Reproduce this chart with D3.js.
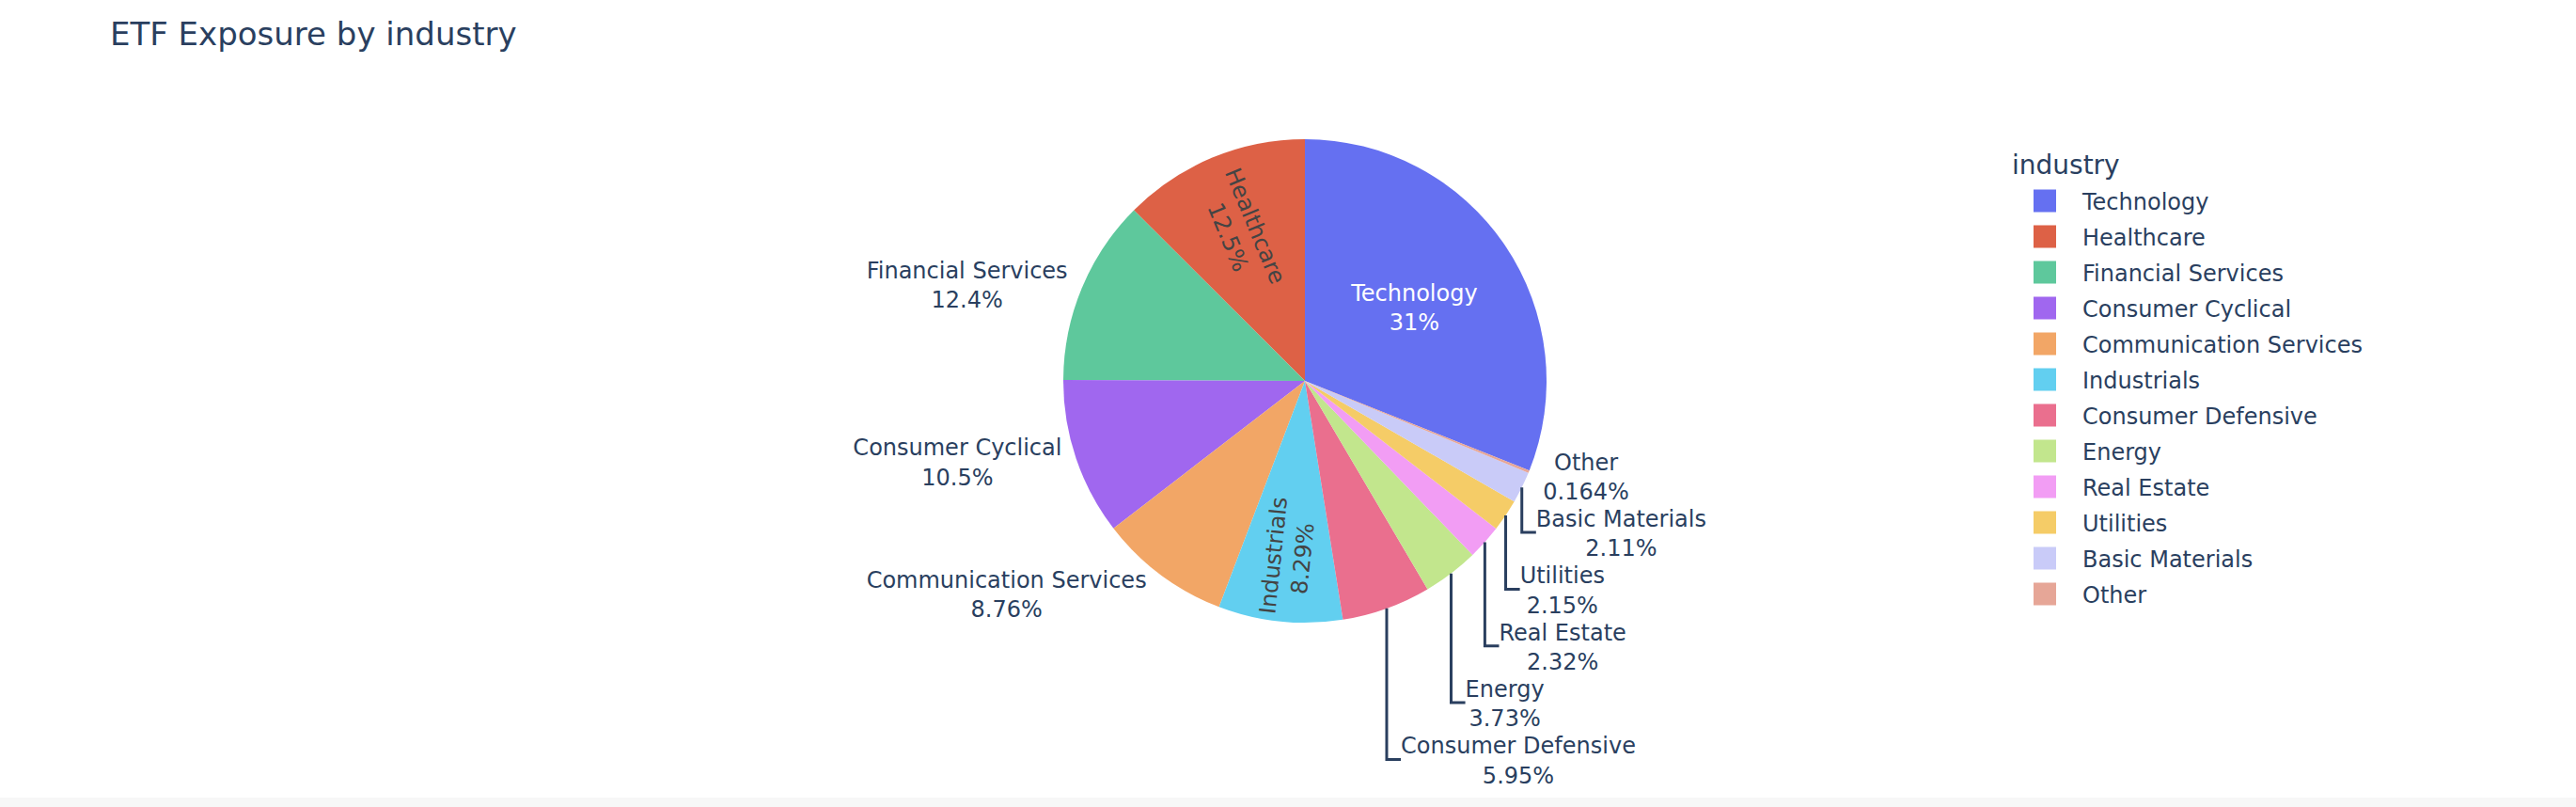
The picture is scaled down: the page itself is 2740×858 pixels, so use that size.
<!DOCTYPE html>
<html>
<head>
<meta charset="utf-8">
<script src="https://cdn.jsdelivr.net/npm/d3@7"></script>
<style>
  html, body { margin: 0; padding: 0; background: #ffffff; overflow: hidden; }
  svg { display: block; }
</style>
</head>
<body>
<svg id="chart" width="2740" height="858"></svg>
<script>
// ---------------- data ----------------
const chartTitle = "ETF Exposure by industry";
const legendTitle = "industry";
const industries = [
  "Technology", "Healthcare", "Financial Services", "Consumer Cyclical",
  "Communication Services", "Industrials", "Consumer Defensive", "Energy",
  "Real Estate", "Utilities", "Basic Materials", "Other"
];
const shares = [31.0, 12.5, 12.4, 10.5, 8.76, 8.29, 5.95, 3.73, 2.32, 2.15, 2.11, 0.164];
const sliceColors = [
  "#6570F1", "#DD6146", "#5EC89C", "#A067EF", "#F2A666", "#62CFF0",
  "#EA6F8E", "#C2E68D", "#F29DF4", "#F5CC67", "#C9CBF8", "#E6A697"
];

// ---------------- layout / style ----------------
const W = 2740, H = 858;
const cx = 1388, cy = 405, R = 257;
const FONT = "Verdana, 'DejaVu Sans', sans-serif";
const textColor = "#2a3f5f";
const FS = 24;                 // label font size
const LINE = 1.3 * FS;         // line spacing
const ASC = 1.005 * FS, DESC = 0.21 * FS;
const TEXTPAD = 6;

const svg = d3.select("#chart");
svg.append("rect").attr("x", 0).attr("y", 0).attr("width", W).attr("height", H).attr("fill", "#ffffff");
svg.append("rect").attr("x", 0).attr("y", 848).attr("width", W).attr("height", 10).attr("fill", "#f7f7f7");

// title
svg.append("text")
  .attr("x", 117).attr("y", 48)
  .attr("font-family", FONT).attr("font-size", 34)
  .attr("fill", textColor)
  .text(chartTitle);

// ---------------- pie ----------------
const total = d3.sum(shares);
const a0 = 2 * Math.PI * shares[0] / total;
const pie = d3.pie().sort(null).value(d => d).startAngle(a0).endAngle(a0 - 2 * Math.PI);
const arcs = pie(shares);
const arcGen = d3.arc().innerRadius(0).outerRadius(R);
const fmt = d3.format(".3~r");
const color = d3.scaleOrdinal().domain(industries).range(sliceColors);

const gPie = svg.append("g").attr("transform", `translate(${cx},${cy})`);
gPie.selectAll("path.slice")
  .data(arcs)
  .enter().append("path")
  .attr("class", "slice")
  .attr("d", arcGen)
  .attr("fill", (d, i) => color(industries[i]));

function coords(r, ang) { return [r * Math.sin(ang), -r * Math.cos(ang)]; }

// measure text widths
const measurer = svg.append("text").attr("font-family", FONT).attr("font-size", FS).attr("x", -9999).attr("y", -9999);
function textWidth(s) { measurer.text(s); return measurer.node().getComputedTextLength(); }

function calcMaxHalfSize(a, halfAngle, r, ring) {
  const q = a + 1 / (2 * Math.tan(halfAngle));
  return r * Math.min(1 / (Math.sqrt(q * q + 0.5) + q), ring / (Math.sqrt(a * a + ring / 2) + a));
}
function calcRCenter(a, b) { return Math.cos(b) - a * b; }
function calcRotate(t) { return (180 / Math.PI * t + 720) % 180 - 90; }
function calcRad(bb, r, halfAngle, midAngle) {
  r = Math.max(0, r - 2 * TEXTPAD);
  const a = bb.width / bb.height;
  const s = calcMaxHalfSize(a, halfAngle, r, 1);
  return { scale: s * 2 / bb.height, rCenter: calcRCenter(a, s / r), rotate: calcRotate(midAngle) };
}
function calcTan(bb, r, halfAngle, midAngle) {
  r = Math.max(0, r - 2 * TEXTPAD);
  const a = bb.height / bb.width;
  const s = calcMaxHalfSize(a, halfAngle, r, 1);
  return { scale: s * 2 / bb.width, rCenter: calcRCenter(a, s / r), rotate: calcRotate(midAngle + Math.PI / 2) };
}
function insideTransform(bb, p) {
  const all = [];
  const diam = Math.sqrt(bb.width * bb.width + bb.height * bb.height);
  let t = { scale: p.rInscribed * R * 2 / diam, rCenter: 1 - p.rInscribed, rotate: 0 };
  if (t.scale >= 1) return t;
  all.push(t);
  all.push(calcRad(bb, R, p.halfangle, p.mid));
  all.push(calcTan(bb, R, p.halfangle, p.mid));
  let id = 0, mx = 0;
  all.forEach((tt, k) => { if (tt.scale > mx) { mx = tt.scale; id = k; } });
  return all[id];
}
function outsideTransform(bb, p) {
  const x = p.pxmid[0], y = p.pxmid[1];
  let dx = bb.width / 2, dy = bb.height / 2;
  if (x < 0) dx *= -1;
  if (y < 0) dy *= -1;
  return { scale: 1, rCenter: 1, rotate: 0,
    x: dx + Math.abs(dy) * (dx > 0 ? 1 : -1) / 2,
    y: dy / (1 + x * x / (y * y)), outside: true };
}
function isLight(hex) {
  const c = d3.rgb(hex);
  return (c.r * 299 + c.g * 587 + c.b * 114) / 1000 >= 128;
}

const pts = arcs.map((d, i) => {
  const v = shares[i];
  const mid = (d.startAngle + d.endAngle) / 2;
  const halfangle = Math.PI * Math.min(v / total, 0.5);
  const lines = [industries[i], fmt(v) + "%"];
  const width = d3.max(lines, s => textWidth(s));
  const bb = { width: width, height: LINE + ASC + DESC };
  const p = { i, v, mid, halfangle, lines, bb, pxmid: coords(R, mid),
    rInscribed: Math.min(1 / (1 + 1 / Math.sin(halfangle)), 0.5), labelExtraY: 0 };
  let t = insideTransform(bb, p);
  if (t.scale < 1) {
    t = outsideTransform(bb, p);
    p.outside = true;
    p.tx = cx + p.pxmid[0] + t.x;
    p.ty = cy + p.pxmid[1] + t.y;
    p.yLabelMin = p.ty - bb.height / 2;
    p.yLabelMid = p.ty;
    p.yLabelMax = p.ty + bb.height / 2;
  } else {
    const xy = coords(R, mid);
    p.tx = cx + xy[0] * t.rCenter;
    p.ty = cy + xy[1] * t.rCenter;
  }
  p.t = t;
  return p;
});
measurer.remove();

// scoot outside labels to avoid overlaps (vertical only)
const quads = [[[], []], [[], []]];
pts.filter(p => p.outside).forEach(p => quads[p.pxmid[1] < 0 ? 0 : 1][p.pxmid[0] < 0 ? 0 : 1].push(p));
const topFirst = (a, b) => a.pxmid[1] - b.pxmid[1];
const bottomFirst = (a, b) => b.pxmid[1] - a.pxmid[1];
for (let yHalf = 0; yHalf < 2; yHalf++) {
  const yDiffSign = yHalf ? 1 : -1;
  for (let xHalf = 0; xHalf < 2; xHalf++) {
    const q = quads[yHalf][xHalf];
    q.sort(yHalf ? topFirst : bottomFirst);
    const opp = quads[yHalf ? 0 : 1][xHalf];
    const firstOpp = yHalf && opp.length ? opp[0] : null;
    for (let k = 0; k < q.length; k++) {
      let prev = k ? q[k - 1] : null;
      if (firstOpp && !k) prev = firstOpp;
      if (!prev) continue;
      const prevOuter = prev.labelExtraY + (yHalf ? prev.yLabelMax : prev.yLabelMin);
      const thisInner = yHalf ? q[k].yLabelMin : q[k].yLabelMax;
      const nd = prevOuter - thisInner;
      if (nd * yDiffSign > 0) q[k].labelExtraY = nd;
    }
  }
}

// leader lines
const gLines = svg.append("g");
pts.filter(p => p.outside && p.labelExtraY).forEach(p => {
  const x0 = cx + p.pxmid[0], y0 = cy + p.pxmid[1];
  const textDx = p.bb.height * (p.pxmid[0] < 0 ? -1 : 1) / 4;
  gLines.append("path")
    .attr("d", `M${x0},${y0}V${p.yLabelMid + p.labelExtraY}h${textDx}`)
    .attr("fill", "none")
    .attr("stroke", textColor)
    .attr("stroke-width", 3);
});

// labels
const gText = svg.append("g");
pts.forEach(p => {
  const ty = p.ty + (p.outside ? p.labelExtraY : 0);
  const col = p.outside ? textColor : (isLight(sliceColors[p.i]) ? "#444444" : "#ffffff");
  const g = gText.append("g")
    .attr("transform", `translate(${p.tx},${ty})` + (p.t.rotate ? ` rotate(${p.t.rotate})` : ""));
  p.lines.forEach((s, k) => {
    g.append("text")
      .attr("x", 0)
      .attr("y", -p.bb.height / 2 + ASC + k * LINE)
      .attr("text-anchor", "middle")
      .attr("font-family", FONT).attr("font-size", FS)
      .attr("fill", col)
      .text(s);
  });
});

// ---------------- legend ----------------
const legend = svg.append("g");
legend.append("text")
  .attr("x", 2140).attr("y", 185)
  .attr("font-family", FONT).attr("font-size", 28)
  .attr("fill", textColor)
  .text(legendTitle);
const rowY = d3.scalePoint().domain(industries).range([213.5, 213.5 + 38 * (industries.length - 1)]);
const items = legend.selectAll("g.item").data(industries).enter().append("g")
  .attr("class", "item")
  .attr("transform", d => `translate(0,${rowY(d)})`);
items.append("rect")
  .attr("x", 2163).attr("y", -12).attr("width", 24).attr("height", 24)
  .attr("fill", d => color(d));
items.append("text")
  .attr("x", 2215).attr("y", 9.5)
  .attr("font-family", FONT).attr("font-size", FS)
  .attr("fill", textColor)
  .text(d => d);
</script>
</body>
</html>
